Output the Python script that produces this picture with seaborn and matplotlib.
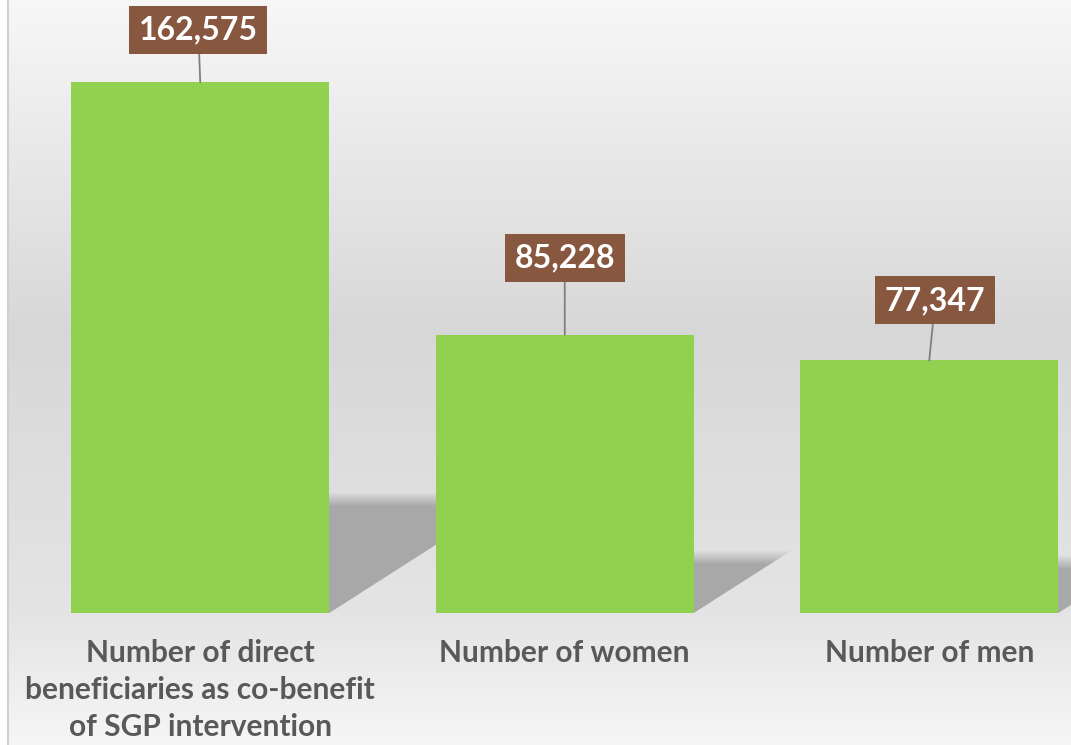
import numpy as np
import matplotlib.pyplot as plt
import seaborn as sns
from matplotlib.patches import Polygon
from matplotlib.lines import Line2D

categories = ["Number of direct\nbeneficiaries as co-benefit\nof SGP intervention",
              "Number of women", "Number of men"]
values = [162575, 85228, 77347]
value_labels = ["162,575", "85,228", "77,347"]

# where the label boxes sit, relative to the bar top (pixels)
label_offsets = [(-2, 52), (0, 77), (6, 60)]

sns.set_style("white")
plt.rcParams['font.family'] = ['Lato', 'DejaVu Sans']

W, H = 1071, 745
fig = plt.figure(figsize=(W / 100, H / 100), dpi=100)
fig.patch.set_facecolor('white')

# gradient background of the chart area
bg = fig.add_axes([8 / W, 0, 1, 1], zorder=-2)
rows = np.interp(np.arange(H), [0, 330, 613, 745], [0.97, 0.845, 0.895, 0.965])
img = np.repeat(rows[:, None, None], 3, axis=2)
bg.imshow(img, aspect='auto', extent=[0, 1, 0, 1], origin='upper')
bg.axis('off')
fig.add_artist(Line2D([7.5 / W, 7.5 / W], [0, 1], color='#d0d0d0', lw=1.5))

ax = fig.add_axes([18 / W, 132 / H, 1093.5 / W, 613 / H])
ax.patch.set_alpha(0)
ymax = 613 / 531 * values[0]

sns.barplot(x=categories, y=values, color='#92D050', saturation=1, width=0.708,
            ax=ax, zorder=3, edgecolor='none', linewidth=0)
ax.set_xlim(-0.5, 2.5)
ax.set_ylim(0, ymax)

# soft shadows falling behind the bars
(px0, py0), (px1, py1) = ax.transData.transform([(0, 0), (1, 1)])
ppx, ppy = px1 - px0, py1 - py0
for i, v in enumerate(values):
    s = 0.226 * v
    dx = (s * ppy / 0.64) / ppx
    xl, xr = i - 0.354, i + 0.354
    poly = Polygon([(xl, 0), (xr, 0), (xr + dx, s), (xl + dx, s)],
                   closed=True, transform=ax.transData, fc='none', ec='none')
    n = 200
    fade_px = 14
    h_px = s * ppy
    t = np.linspace(0, h_px, n)  # from top down
    alpha = np.clip(t / fade_px, 0, 1) * 0.85
    shade = np.zeros((n, 1, 4))
    shade[..., :3] = 0.62
    shade[:, 0, 3] = alpha
    im = ax.imshow(shade, extent=[xl, xr + dx, 0, s], origin='upper',
                   aspect='auto', zorder=1, interpolation='bilinear')
    im.set_clip_path(poly)
ax.set_xlim(-0.5, 2.5)
ax.set_ylim(0, ymax)

for i, v in enumerate(values):
    ax.annotate(value_labels[i], xy=(i, v), xytext=label_offsets[i],
                textcoords='offset pixels', ha='center', va='center',
                fontsize=23, fontweight='bold', color='white', zorder=5,
                bbox=dict(boxstyle='square,pad=0.3', fc='#88573F', ec='none'),
                arrowprops=dict(arrowstyle='-', color='#7f7f7f', lw=1.3,
                                shrinkA=0, shrinkB=0))

ax.set_yticks([])
ax.tick_params(axis='x', length=0, pad=19, labelsize=21.5, labelcolor='#595959')
for lab in ax.get_xticklabels():
    lab.set_fontweight('bold')
    lab.set_linespacing(1.38)
sns.despine(ax=ax, left=True, bottom=True)
ax.set_xlabel('')

fig.savefig('out.png', dpi=100)
